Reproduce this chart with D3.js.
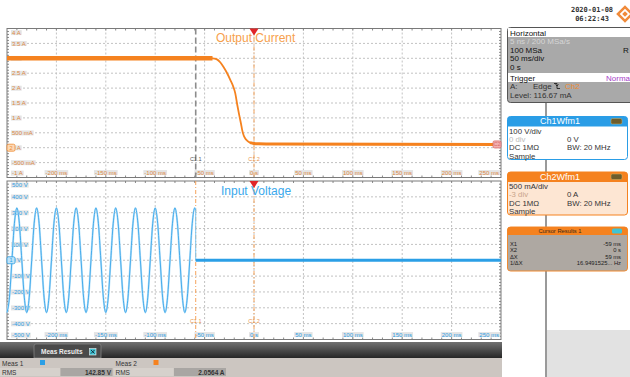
<!DOCTYPE html>
<html lang="en">
<head>
<meta charset="utf-8">
<title>Scope capture</title>
<script src="https://d3js.org/d3.v7.min.js"></script>
<style>
    body { margin: 0; background: #fff; }
    svg { display: block; font-family: "Liberation Sans", Arial, sans-serif; }
    .grid { stroke: #c2c2c2; stroke-width: 1; stroke-dasharray: 2,2; }
    .frame { fill: none; stroke: #7a7a7a; stroke-width: 1; }
    .tick { stroke: #8a8a8a; stroke-width: 1; }
</style>
</head>
<body>
<script>
    // time axis (ms), shared by both panels
    var timeTicks = [-200, -150, -100, -50, 0, 50, 100, 150, 200, 250];
    var timeLabels = ["-200 ms", "-150 ms", "-100 ms", "-50 ms", "0 s", "50 ms", "100 ms", "150 ms", "200 ms", "250 ms"];

    // Ch2 current axis
    var ampTicks = [4, 3.5, 3, 2.5, 2, 1.5, 1, 0.5, 0, -0.5, -1];
    var ampLabels = ["4 A", "3.5 A", "3 A", "2.5 A", "2 A", "1.5 A", "1 A", "500 mA", "0 A", "-500 mA", "-1 A"];

    // Ch1 voltage axis
    var voltTicks = [500, 400, 300, 200, 100, 0, -100, -200, -300, -400, -500];
    var voltLabels = ["500 V", "400 V", "300 V", "200 V", "100 V", "0 V", "-100 V", "-200 V", "-300 V", "-400 V", "-500 V"];

    // output current trace
    var curT = [-250, -42, -38, -34, -31, -28, -24, -21, -19, -17, -15, -13, -12, -10.5, -9, -7, -4, 0, 5, 20, 250];
    var curA = [3.0, 3.0, 2.97, 2.86, 2.72, 2.55, 2.28, 2.05, 1.83, 1.45, 1.1, 0.78, 0.6, 0.42, 0.32, 0.24, 0.17, 0.14, 0.13, 0.12, 0.11];

    // input voltage samples, every 2.5 ms from -250 ms to -60 ms
    var voltStart = -250, voltStep = 2.5;
    var voltV = [
        -330, -233, 0, 233, 330, 233, 0, -233,
        -330, -233, 0, 233, 330, 233, 0, -233,
        -330, -233, 0, 233, 330, 233, 0, -233,
        -330, -233, 0, 233, 330, 233, 0, -233,
        -330, -233, 0, 233, 330, 233, 0, -233,
        -330, -233, 0, 233, 330, 233, 0, -233,
        -330, -233, 0, 233, 330, 233, 0, -233,
        -330, -233, 0, 233, 330, 233, 0, -233,
        -330, -233, 0, 233, 330, 233, 0, -233,
        -330, -233, 0, 233, 330
    ];
    // after switch-off: cut at the cursor, then flat
    var voltCutT = [-59, -59];
    var voltCutV = [314, 0];
    var voltFlatT = [-59, 250];
    var voltFlatV = [0, 0];

    var cursorT = [-59, 0];

    var ORANGE = "#f5821f", BLUE = "#2b9fe6";

    var svg = d3.select("body").append("svg").attr("width", 630).attr("height", 377);

    var x = d3.scaleLinear().domain([-250, 250]).range([7, 501]);
    var yA = d3.scaleLinear().domain([-1, 4]).range([177.5, 28.5]);
    var yV = d3.scaleLinear().domain([-500, 500]).range([339.5, 181]);

    function tag(g, txt, tx, ty, color, anchor) {
        var t = g.append("text").attr("x", tx).attr("y", ty).attr("dy", "0.35em")
            .attr("text-anchor", anchor).attr("fill", color)
            .attr("font-size", 6).text(txt);
        var b = t.node().getBBox();
        g.insert("rect", function() { return t.node(); })
            .attr("x", b.x - 1).attr("y", b.y + 0.5)
            .attr("width", b.width + 2).attr("height", b.height - 1)
            .attr("fill", "#e4e4e4");
    }

    function panel(y, ticks, labels, color, minorStep) {
        var g = svg.append("g");
        var top = y.range()[1], bot = y.range()[0];
        g.append("rect").attr("x", 7).attr("y", top).attr("width", 494).attr("height", bot - top).attr("fill", "#fff");

        g.selectAll(".vg").data(timeTicks.filter(function(d) { return d < 250; }))
            .enter().append("line").attr("class", "grid")
            .attr("x1", function(d) { return x(d); }).attr("x2", function(d) { return x(d); })
            .attr("y1", top).attr("y2", bot);
        g.selectAll(".hg").data(ticks.slice(1, -1))
            .enter().append("line").attr("class", "grid")
            .attr("x1", 7).attr("x2", 501)
            .attr("y1", function(d) { return y(d); }).attr("y2", function(d) { return y(d); });

        // small ticks along the frame
        var mt = d3.range(-240, 250, 10);
        g.selectAll(".mb").data(mt).enter().append("line").attr("class", "tick")
            .attr("x1", function(d) { return x(d); }).attr("x2", function(d) { return x(d); })
            .attr("y1", bot).attr("y2", function(d) { return bot - (d % 50 === 0 ? 3 : 2); });
        g.selectAll(".mt").data(mt).enter().append("line").attr("class", "tick")
            .attr("x1", function(d) { return x(d); }).attr("x2", function(d) { return x(d); })
            .attr("y1", top).attr("y2", top + 2);
        var dom = y.domain();
        var my = d3.range(dom[0] + minorStep, dom[1], minorStep);
        g.selectAll(".ml").data(my).enter().append("line").attr("class", "tick")
            .attr("x1", 7).attr("x2", 9)
            .attr("y1", function(d) { return y(d); }).attr("y2", function(d) { return y(d); });
        g.selectAll(".mr").data(my).enter().append("line").attr("class", "tick")
            .attr("x1", 499).attr("x2", 501)
            .attr("y1", function(d) { return y(d); }).attr("y2", function(d) { return y(d); });

        g.append("rect").attr("class", "frame").attr("x", 7).attr("y", top).attr("width", 494).attr("height", bot - top);

        var lg = svg.append("g").attr("class", "labels");
        ticks.forEach(function(d, i) {
            var ty = Math.max(top + 4, Math.min(bot - 4.5, y(d)));
            tag(lg, labels[i], 12, ty, color, "start");
        });
        timeTicks.forEach(function(d, i) {
            if (d === 250) tag(lg, timeLabels[i], 499, bot - 5, color, "end");
            else tag(lg, timeLabels[i], x(d), bot - 5, color, "middle");
        });
        return lg;
    }

    var topLabels = panel(yA, ampTicks, ampLabels, "#de8a45", 0.1);
    var botLabels = panel(yV, voltTicks, voltLabels, "#2f9fe4", 20);

    // cursors
    function cursor(t, top, bot, stroke, dash, width, name, labelColor) {
        svg.append("line").attr("x1", x(t)).attr("x2", x(t)).attr("y1", top).attr("y2", bot)
            .attr("stroke", stroke).attr("stroke-width", width).attr("stroke-dasharray", dash);
        svg.append("text").attr("x", x(t)).attr("y", bot - 17).attr("text-anchor", "middle")
            .attr("font-size", 5.5).attr("fill", labelColor).text(name);
    }
    cursor(cursorT[0], 28.5, 177.5, "#8c8c8c", "6,3", 1.6, "C1.1", "#555");
    cursor(cursorT[1], 28.5, 177.5, "#f5a45c", "4,2,1,2", 1, "C1.2", "#e8944a");
    cursor(cursorT[0], 181, 339.5, "#f5a45c", "4,2,1,2", 1, "C1.1", "#e8944a");
    cursor(cursorT[1], 181, 339.5, "#f5a45c", "4,2,1,2", 1, "C1.2", "#e8944a");

    // current trace
    var curPts = curT.map(function(t, i) { return [t, curA[i]]; });
    var lineA = d3.line().x(function(d) { return x(d[0]); }).y(function(d) { return yA(d[1]); }).curve(d3.curveMonotoneX);
    svg.append("path").attr("d", lineA(curPts)).attr("fill", "none").attr("stroke", ORANGE).attr("stroke-width", 1.8);
    svg.append("path").attr("d", lineA(curPts.filter(function(d) { return d[0] <= -42; })))
        .attr("fill", "none").attr("stroke", ORANGE).attr("stroke-width", 4.5);
    svg.append("path").attr("d", lineA(curPts.filter(function(d) { return d[0] >= -4; })))
        .attr("fill", "none").attr("stroke", ORANGE).attr("stroke-width", 3);

    // voltage trace
    var voltPts = voltV.map(function(v, i) { return [voltStart + i * voltStep, v]; });
    voltPts.push([voltCutT[0], voltCutV[0]]);
    var lineV = d3.line().x(function(d) { return x(d[0]); }).y(function(d) { return yV(d[1]); }).curve(d3.curveMonotoneX);
    var lineVs = d3.line().x(function(d) { return x(d[0]); }).y(function(d) { return yV(d[1]); });
    svg.append("path").attr("d", lineV(voltPts)).attr("fill", "none").attr("stroke", "#b6e0f8").attr("stroke-width", 2);
    svg.append("path").attr("d", lineV(voltPts)).attr("fill", "none").attr("stroke", "#3aa6ea").attr("stroke-width", 0.9);
    svg.append("path").attr("d", lineVs(voltCutT.map(function(t, i) { return [t, voltCutV[i]]; })))
        .attr("fill", "none").attr("stroke", "#7cc6f2").attr("stroke-width", 1);
    svg.append("path").attr("d", lineVs(voltFlatT.map(function(t, i) { return [t, voltFlatV[i]]; })))
        .attr("fill", "none").attr("stroke", BLUE).attr("stroke-width", 3);

    // channel ground markers
    function marker(mx, my, fill, stroke, txt) {
        svg.append("rect").attr("x", mx).attr("y", my - 3.5).attr("width", 8).attr("height", 7).attr("rx", 1.5)
            .attr("fill", fill).attr("stroke", stroke).attr("stroke-width", 0.8);
        svg.append("text").attr("x", mx + 4).attr("y", my).attr("dy", "0.35em").attr("text-anchor", "middle")
            .attr("font-size", 5.5).attr("fill", stroke).text(txt);
    }
    marker(7, yA(0), "#fcd9b6", "#ef8a30", "2");
    marker(7, yV(0), "#bfe3f8", "#2b9fe6", "1");
    marker(493, yA(0.11), "#f2b0b0", "#d86a6a", "C2");

    // trigger position
    [28.5, 181].forEach(function(ty) {
        svg.append("path").attr("d", "M" + (x(0) - 4.5) + "," + ty + "h9l-4.5,7z").attr("fill", "#e0262a");
    });

    svg.append("text").attr("x", 216).attr("y", 42).attr("font-size", 12).attr("fill", "#f7a04c").text("Output Current");
    svg.append("text").attr("x", 221).attr("y", 195).attr("font-size", 12).attr("fill", "#3aa8ec").text("Input Voltage");

    // header: date and logo
    svg.append("text").attr("x", 592).attr("y", 12).attr("text-anchor", "middle").attr("font-size", 7)
        .attr("font-weight", "bold").attr("font-family", "DejaVu Sans Mono").attr("fill", "#333").text("2020-01-08");
    svg.append("text").attr("x", 592).attr("y", 21).attr("text-anchor", "middle").attr("font-size", 7)
        .attr("font-weight", "bold").attr("font-family", "DejaVu Sans Mono").attr("fill", "#333").text("06:22:43");
    svg.append("rect").attr("x", 620).attr("y", 9).attr("width", 10).attr("height", 10)
        .attr("transform", "rotate(45,625,14)").attr("fill", "none").attr("stroke", "#f08a3a").attr("stroke-width", 2.5);
    svg.append("rect").attr("x", 623).attr("y", 12).attr("width", 4).attr("height", 4)
        .attr("transform", "rotate(45,625,14)").attr("fill", "#f08a3a");

    // right column
    svg.append("line").attr("x1", 546).attr("x2", 546).attr("y1", 100).attr("y2", 377).attr("stroke", "#9a9a9a").attr("stroke-width", 2);
    svg.append("rect").attr("x", 547).attr("y", 330).attr("width", 83).attr("height", 47).attr("fill", "#e2e2e2");

    var side = svg.append("g").attr("font-size", 8);
    side.append("rect").attr("x", 507.5).attr("y", 27.5).attr("width", 130).attr("height", 75).attr("rx", 3)
        .attr("fill", "#a9a9a9").attr("stroke", "#555");
    side.append("rect").attr("x", 508).attr("y", 28).attr("width", 122).attr("height", 9).attr("fill", "#fff");
    side.append("rect").attr("x", 508).attr("y", 73).attr("width", 122).attr("height", 9).attr("fill", "#fff");
    var hRows = [
        ["Horizontal", 35.8, "#111"], ["5 ns / 200 MSa/s", 44.3, "#d6d6d6"], ["100 MSa", 52.8, "#111"],
        ["50 ms/div", 61.3, "#111"], ["0 s", 69.8, "#111"], ["Trigger", 80.8, "#111"],
        ["A:", 89.3, "#333"], ["Level: 116.67 mA", 97.8, "#333"]
    ];
    hRows.forEach(function(r) {
        side.append("text").attr("x", 510).attr("y", r[1]).attr("fill", r[2]).text(r[0]);
    });
    side.append("text").attr("x", 623).attr("y", 52.8).attr("fill", "#111").text("R");
    side.append("text").attr("x", 606).attr("y", 80.8).attr("fill", "#a640c8").text("Norma");
    side.append("text").attr("x", 533).attr("y", 89.3).attr("fill", "#333").text("Edge");
    side.append("path").attr("d", "M554,83.5h3v5h3M557,86l-1.5,-1.5M557,86l1.5,-1.5").attr("fill", "none").attr("stroke", "#222").attr("stroke-width", 0.9);
    side.append("text").attr("x", 565).attr("y", 89.3).attr("fill", "#f08a30").text("Ch2");

    function chanBox(by, head, headColor, bodyFill, rows) {
        side.append("rect").attr("x", 507.5).attr("y", by).attr("width", 120).attr("height", 43).attr("rx", 3)
            .attr("fill", bodyFill).attr("stroke", headColor);
        side.append("path").attr("d", "M507.5," + (by + 10) + "v-7a3,3 0 0 1 3,-3h114a3,3 0 0 1 3,3v7z").attr("fill", headColor);
        side.append("text").attr("x", 560).attr("y", by + 7.8).attr("text-anchor", "middle").attr("fill", "#fff")
            .attr("font-size", 9).text(head);
        side.append("rect").attr("x", 611).attr("y", by + 2).attr("width", 11).attr("height", 5.5).attr("rx", 1.5)
            .attr("fill", "#6e5d2c").attr("stroke", "#c9b36a").attr("stroke-width", 0.5);
        rows.forEach(function(r, i) {
            side.append("text").attr("x", 509).attr("y", by + 17 + i * 8.4).attr("font-size", 7.8).attr("fill", r[1]).text(r[0]);
            if (r[2]) side.append("text").attr("x", 567).attr("y", by + 17 + i * 8.4).attr("font-size", 7.8).attr("fill", "#333").text(r[2]);
        });
    }
    chanBox(116.5, "Ch1Wfm1", "#2a9de6", "#fff",
        [["100 V/div", "#333"], ["0 div", "#bbb", "0 V"], ["DC 1MΩ", "#333", "BW: 20 MHz"], ["Sample", "#333"]]);
    chanBox(172, "Ch2Wfm1", "#f5821f", "#fde6d3",
        [["500 mA/div", "#333"], ["-3 div", "#c9a48a", "0 A"], ["DC 1MΩ", "#333", "BW: 20 MHz"], ["Sample", "#333"]]);

    // cursor results
    var cLabels = ["X1", "X2", "ΔX", "1/ΔX"];
    var cValues = ["-59 ms", "0 s", "59 ms", "16.9491525... Hz"];
    side.append("rect").attr("x", 507.5).attr("y", 227).attr("width", 120).attr("height", 44).attr("rx", 3)
        .attr("fill", "#aea8a2").attr("stroke", "#f08a30");
    side.append("path").attr("d", "M507.5,235v-5a3,3 0 0 1 3,-3h114a3,3 0 0 1 3,3v5z").attr("fill", "#f5821f");
    side.append("text").attr("x", 560).attr("y", 233.3).attr("text-anchor", "middle").attr("font-size", 5.8)
        .attr("fill", "#3a2a1a").text("Cursor Results 1");
    side.append("rect").attr("x", 612).attr("y", 228.5).attr("width", 10).attr("height", 5).attr("rx", 1.5).attr("fill", "#3fc4d4");
    cLabels.forEach(function(l, i) {
        var ry = 246 + i * 6.4;
        side.append("text").attr("x", 510).attr("y", ry).attr("font-size", 5.8).attr("fill", "#222").text(l);
        side.append("text").attr("x", 621).attr("y", ry).attr("font-size", 5.8).attr("text-anchor", "end").attr("fill", "#222").text(cValues[i]);
    });

    // measurement bar
    var defs = svg.append("defs");
    var gr = defs.append("linearGradient").attr("id", "bar").attr("x1", 0).attr("x2", 0).attr("y1", 0).attr("y2", 1);
    gr.append("stop").attr("offset", 0).attr("stop-color", "#707070");
    gr.append("stop").attr("offset", 1).attr("stop-color", "#262626");
    svg.append("rect").attr("x", 0).attr("y", 342).attr("width", 502).attr("height", 16).attr("fill", "url(#bar)");
    svg.append("path").attr("d", "M34,358v-12a2,2 0 0 1 2,-2h63a2,2 0 0 1 2,2v12z").attr("fill", "#4a4a4a").attr("stroke", "#8a8a8a").attr("stroke-width", 0.7);
    svg.append("text").attr("x", 41).attr("y", 354).attr("font-size", 6.5).attr("font-weight", "bold").attr("fill", "#eee").text("Meas Results");
    svg.append("rect").attr("x", 89.5).attr("y", 348.5).attr("width", 6.5).attr("height", 6.5).attr("fill", "#3fc4d4").attr("stroke", "#eee").attr("stroke-width", 0.6);
    svg.append("path").attr("d", "M91,350l3.5,3.5M94.5,350l-3.5,3.5").attr("stroke", "#123").attr("stroke-width", 0.9);

    svg.append("rect").attr("x", 0).attr("y", 358).attr("width", 502).attr("height", 19).attr("fill", "#ccc6c1");
    var measNames = ["Meas 1", "Meas 2"];
    var measColors = [BLUE, ORANGE];
    var measKind = ["RMS", "RMS"];
    var measVals = ["142.85 V", "2.0564 A"];
    measNames.forEach(function(n, i) {
        var ox = i * 113.5;
        svg.append("text").attr("x", ox + 2).attr("y", 365.5).attr("font-size", 6.5).attr("fill", "#333").text(n);
        svg.append("rect").attr("x", ox + 40).attr("y", 360).attr("width", 5).attr("height", 5).attr("fill", measColors[i]);
        svg.append("rect").attr("x", ox).attr("y", 368).attr("width", 60).attr("height", 8).attr("fill", "#d6d1cc");
        svg.append("rect").attr("x", ox + 60.5).attr("y", 368).attr("width", 52).attr("height", 8).attr("fill", "#a9a6a3");
        svg.append("text").attr("x", ox + 2).attr("y", 374.5).attr("font-size", 6.5).attr("fill", "#333").text(measKind[i]);
        svg.append("text").attr("x", ox + 111).attr("y", 374.5).attr("font-size", 6.5).attr("font-weight", "bold")
            .attr("text-anchor", "end").attr("fill", "#333").text(measVals[i]);
    });
</script>
</body>
</html>
